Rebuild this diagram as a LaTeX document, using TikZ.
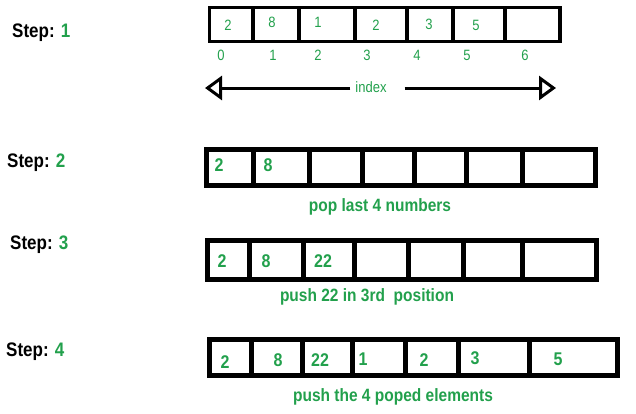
\documentclass[tikz,border=0pt]{standalone}
\usepackage{fontspec}
\setmainfont{Liberation Sans}
\usetikzlibrary{arrows.meta}
\definecolor{stepgreen}{RGB}{34,160,76}
\newcommand{\tallt}[1]{\scalebox{1}[1.15]{#1}}

\begin{document}
\begin{tikzpicture}[%
    x=1pt,
    y=-1pt,
    >={Triangle[open,length=17pt,width=24pt]},
    cell/.style={draw, rectangle, inner sep=0pt, outer sep=0pt},
    thincell/.style={cell, line width=3.5pt},
    thickcell/.style={cell, line width=5pt},
    steplabel/.style={anchor=west, inner sep=0pt, font=\fontsize{17}{17}\selectfont\bfseries},
    val/.style={text=stepgreen, inner sep=0pt, font=\fontsize{13}{13}\selectfont},
    bval/.style={text=stepgreen, inner sep=0pt, font=\fontsize{16}{16}\selectfont\bfseries},
    note/.style={text=stepgreen, inner sep=0pt, font=\fontsize{15.5}{15.5}\selectfont\bfseries}
  ]
    \useasboundingbox (0,0) rectangle (636,413);

    \node[steplabel] (S1) at (12,33)  {\tallt{Step: \textcolor{stepgreen}{1}}};
    \node[steplabel] (S2) at (7,163)  {\tallt{Step: \textcolor{stepgreen}{2}}};
    \node[steplabel] (S3) at (10,245) {\tallt{Step: \textcolor{stepgreen}{3}}};
    \node[steplabel] (S4) at (6,352)  {\tallt{Step: \textcolor{stepgreen}{4}}};

    \foreach \l/\r [count=\i] in {209.5/253, 253/299, 299/355, 355/407, 407/453, 453/505, 505/560}
      \node[thincell, minimum width={(\r-\l)*1pt}, minimum height=34pt] (A\i) at ({(\l+\r)/2},24.5) {};
    \foreach \x/\y/\v [count=\i] in {228/25/2, 272/22/8, 318/22/1, 376/25/2, 429/24/3, 476/25/5}
      \node[val] (a\i) at (\x,\y) {\tallt{\v}};
    \foreach \x/\v [count=\i] in {221/0, 273/1, 318/2, 367/3, 417/4, 467/5, 525/6}
      \node[val] (n\i) at (\x,55) {\tallt{\v}};

    \node[val] (idx) at (371,87) {\tallt{index}};
    \coordinate (idxL) at (205,88);
    \coordinate (idxR) at (556,88);
    \draw[->, line width=3pt] ([xshift=-5pt]idx.west |- idxL) -- (idxL);
    \draw[->, line width=3pt] ([xshift=18pt]idx.east |- idxR) -- (idxR);

    \foreach \l/\r [count=\i] in {206.5/253, 253/309, 309/362, 362/414, 414/466, 466/522, 522/595}
      \node[thickcell, minimum width={(\r-\l)*1pt}, minimum height=36pt] (B\i) at ({(\l+\r)/2},167.5) {};
    \node[bval] (b1) at (219,165) {\tallt{2}};
    \node[bval] (b2) at (268,165) {\tallt{8}};
    \node[note] (popnote) at (380,207) {\tallt{pop last 4 numbers}};

    \foreach \l/\r [count=\i] in {207.5/249, 249/303, 303/354, 354/408, 408/463, 463/522, 522/596.5}
      \node[thickcell, minimum width={(\r-\l)*1pt}, minimum height=38.5pt] (C\i) at ({(\l+\r)/2},259.75) {};
    \node[bval] (c1) at (222,261) {\tallt{2}};
    \node[bval] (c2) at (266,261) {\tallt{8}};
    \node[bval] (c3) at (323,261) {\tallt{22}};
    \node[note] (pushnote) at (367,297) {\tallt{push 22 in 3rd\ \ position}};

    \foreach \l/\r [count=\i] in {209.5/251, 251/302, 302/352, 352/405, 405/458, 458/529, 529/617.5}
      \node[thickcell, minimum width={(\r-\l)*1pt}, minimum height=36pt] (D\i) at ({(\l+\r)/2},357.5) {};
    \foreach \x/\y/\v [count=\i] in {225/362/2, 278/360/8, 320/360/22, 363/359/1, 424/360/2, 475/358/3, 558/359/5}
      \node[bval] (d\i) at (\x,\y) {\tallt{\v}};
    \node[note] (popednote) at (393,397) {\tallt{push the 4 poped elements}};
  \end{tikzpicture}
\end{document}
